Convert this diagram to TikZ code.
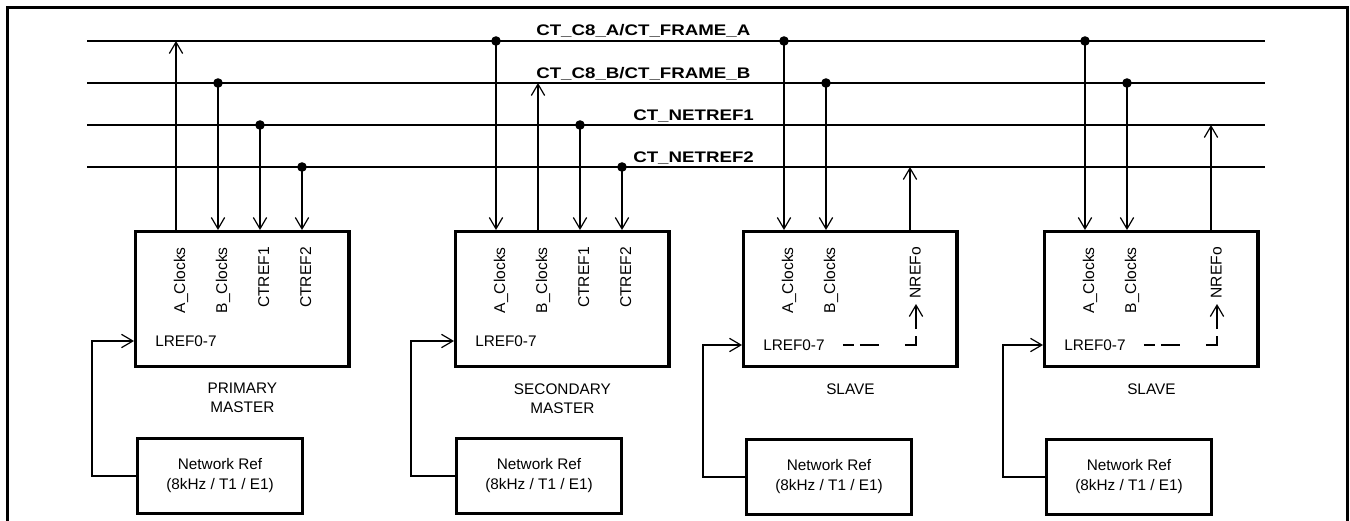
\documentclass[tikz,border=0pt]{standalone}
\usepackage{fontspec}
\setmainfont{Liberation Sans}
\newfontfamily\busfont{Liberation Sans}[FakeStretch=1.22]
\usetikzlibrary{arrows.meta, calc, positioning}
\tikzset{bus/.style={line width=1.5pt}}
\tikzset{sig/.style={line width=1.5pt, -{Straight Barb[length=8.5pt, width=10pt, line width=0.9pt]}}}
\tikzset{lrefdash/.style={sig, dash pattern=on 8.25pt off 4.5pt on 14.25pt off 19.5pt on 15pt off 5.25pt on 18pt}}
\tikzset{card/.style={draw, line width=2.6pt, minimum width=160pt, minimum height=101pt, anchor=north west, inner sep=0pt}}
\tikzset{netref/.style={draw, line width=2.6pt, minimum width=123.4pt, minimum height=55.9pt, anchor=north west, align=center, font=\fontsize{11.5}{15}\selectfont}}
\tikzset{pinlabel/.style={rotate=90, anchor=base east, inner sep=0pt, font=\fontsize{11.7}{14}\selectfont}}
\tikzset{lref/.style={anchor=west, inner sep=0pt, font=\fontsize{11.5}{14}\selectfont}}
\tikzset{buslabel/.style={anchor=base west, inner sep=0pt, font=\busfont\bfseries\fontsize{11.5}{14}\selectfont}}
\tikzset{role/.style={align=center, inner sep=0pt, font=\fontsize{11.5}{14.25}\selectfont}}
\newcommand{\tap}[2]{\fill (#1 |- #2) circle (4.8); \draw[sig] (#1 |- #2) -- (#1)}
\newcommand{\drive}[2]{\draw[sig] (#1) -- (#1 |- #2)}

\begin{document}
\begin{tikzpicture}[x=0.75pt, y=-0.75pt]
	\useasboundingbox (0,0) rectangle (1350,521);
	% Frame
	\draw[line width=2.6pt] (7.5,521) -- (7.5,7.5) -- (1347.5,7.5) -- (1347.5,521);

	% Bus
	\coordinate (ca-w) at (87,41);  \coordinate (ca-e) at (1265,41);
	\coordinate (cb-w) at (87,83);  \coordinate (cb-e) at (1265,83);
	\coordinate (n1-w) at (87,125); \coordinate (n1-e) at (1265,125);
	\coordinate (n2-w) at (87,167); \coordinate (n2-e) at (1265,167);
	\draw[bus] (ca-w) -- (ca-e);
	\draw[bus] (cb-w) -- (cb-e);
	\draw[bus] (n1-w) -- (n1-e);
	\draw[bus] (n2-w) -- (n2-e);
	\node[buslabel] (ca-t) at (536,36) {CT\_C8\_A/CT\_FRAME\_A};
	\node[buslabel] (cb-t) at (536,78) {CT\_C8\_B/CT\_FRAME\_B};
	\node[buslabel] (n1-t) at (633,120) {CT\_NETREF1};
	\node[buslabel] (n2-t) at (633,162) {CT\_NETREF2};

	% Cards
	\node[card] (pm) at (134,230) {};
	\node[card] (sm) at (454,230) {};
	\node[card] (sv1) at (742,230) {};
	\node[card] (sv2) at (1043,230) {};
	\node[role, below=11.25pt of pm] (pm-r) {PRIMARY\\MASTER};
	\node[role, below=11.25pt of sm] (sm-r) {SECONDARY\\MASTER};
	\node[role, below=11.25pt of sv1] (sv1-r) {SLAVE};
	\node[role, below=11.25pt of sv2] (sv2-r) {SLAVE};

	%% Pins
	\foreach \c in {pm, sm, sv1, sv2} {
		\coordinate (\c-a) at ($(\c.north west)+(42,0)$);
		\coordinate (\c-b) at ($(\c.north west)+(84,0)$);
		\coordinate (\c-c) at ($(\c.north west)+(126,0)$);
		\coordinate (\c-d) at ($(\c.north west)+(168,0)$);
		\node[pinlabel] (\c-al) at ($(\c-a)+(9,17)$) {A\_Clocks};
		\node[pinlabel] (\c-bl) at ($(\c-b)+(9,17)$) {B\_Clocks};
	}
	\node[pinlabel] (pm-cl) at ($(pm-c)+(9,17)$) {CTREF1};
	\node[pinlabel] (pm-dl) at ($(pm-d)+(9,17)$) {CTREF2};
	\node[pinlabel] (sm-cl) at ($(sm-c)+(9,17)$) {CTREF1};
	\node[pinlabel] (sm-dl) at ($(sm-d)+(9,17)$) {CTREF2};
	\node[pinlabel] (sv1-dl) at ($(sv1-d)+(10.5,17)$) {NREFo};
	\node[pinlabel] (sv2-dl) at ($(sv2-d)+(10.5,17)$) {NREFo};

	% Bus taps
	\drive{pm-a}{ca-w};
	\tap{pm-b}{cb-w};
	\tap{pm-c}{n1-w};
	\tap{pm-d}{n2-w};
	\tap{sm-a}{ca-w};
	\drive{sm-b}{cb-w};
	\tap{sm-c}{n1-w};
	\tap{sm-d}{n2-w};
	\tap{sv1-a}{ca-w};
	\tap{sv1-b}{cb-w};
	\drive{sv1-d}{n2-w};
	\tap{sv2-a}{ca-w};
	\tap{sv2-b}{cb-w};
	\drive{sv2-d}{n1-w};

	% Network references
	\coordinate (in1) at (92,341);
	\coordinate (in2) at (411,341);
	\coordinate (in3) at (703,345);
	\coordinate (in4) at (1003,345);
	\node[netref] (nr1) at (136,437) {Network Ref\\(8kHz / T1 / E1)};
	\node[netref] (nr2) at (455,437) {Network Ref\\(8kHz / T1 / E1)};
	\node[netref] (nr3) at (745,438) {Network Ref\\(8kHz / T1 / E1)};
	\node[netref] (nr4) at (1045,438) {Network Ref\\(8kHz / T1 / E1)};
	\node[lref] (pm-l) at ($(pm.west |- in1)+(21,0)$) {LREF0-7};
	\node[lref] (sm-l) at ($(sm.west |- in2)+(21,0)$) {LREF0-7};
	\node[lref] (sv1-l) at ($(sv1.west |- in3)+(21,0)$) {LREF0-7};
	\node[lref] (sv2-l) at ($(sv2.west |- in4)+(21,0)$) {LREF0-7};
	\draw[sig] (nr1.west) -| (in1) -- (in1 -| pm.west);
	\draw[sig] (nr2.west) -| (in2) -- (in2 -| sm.west);
	\draw[sig] (nr3.west) -| (in3) -- (in3 -| sv1.west);
	\draw[sig] (nr4.west) -| (in4) -- (in4 -| sv2.west);
	%% Dashed
	\draw[lrefdash] ($(sv1-l.east)+(18,0)$) -| ($(sv1-d)+(6,74)$);
	\draw[lrefdash] ($(sv2-l.east)+(18,0)$) -| ($(sv2-d)+(6,74)$);
\end{tikzpicture}
\end{document}
